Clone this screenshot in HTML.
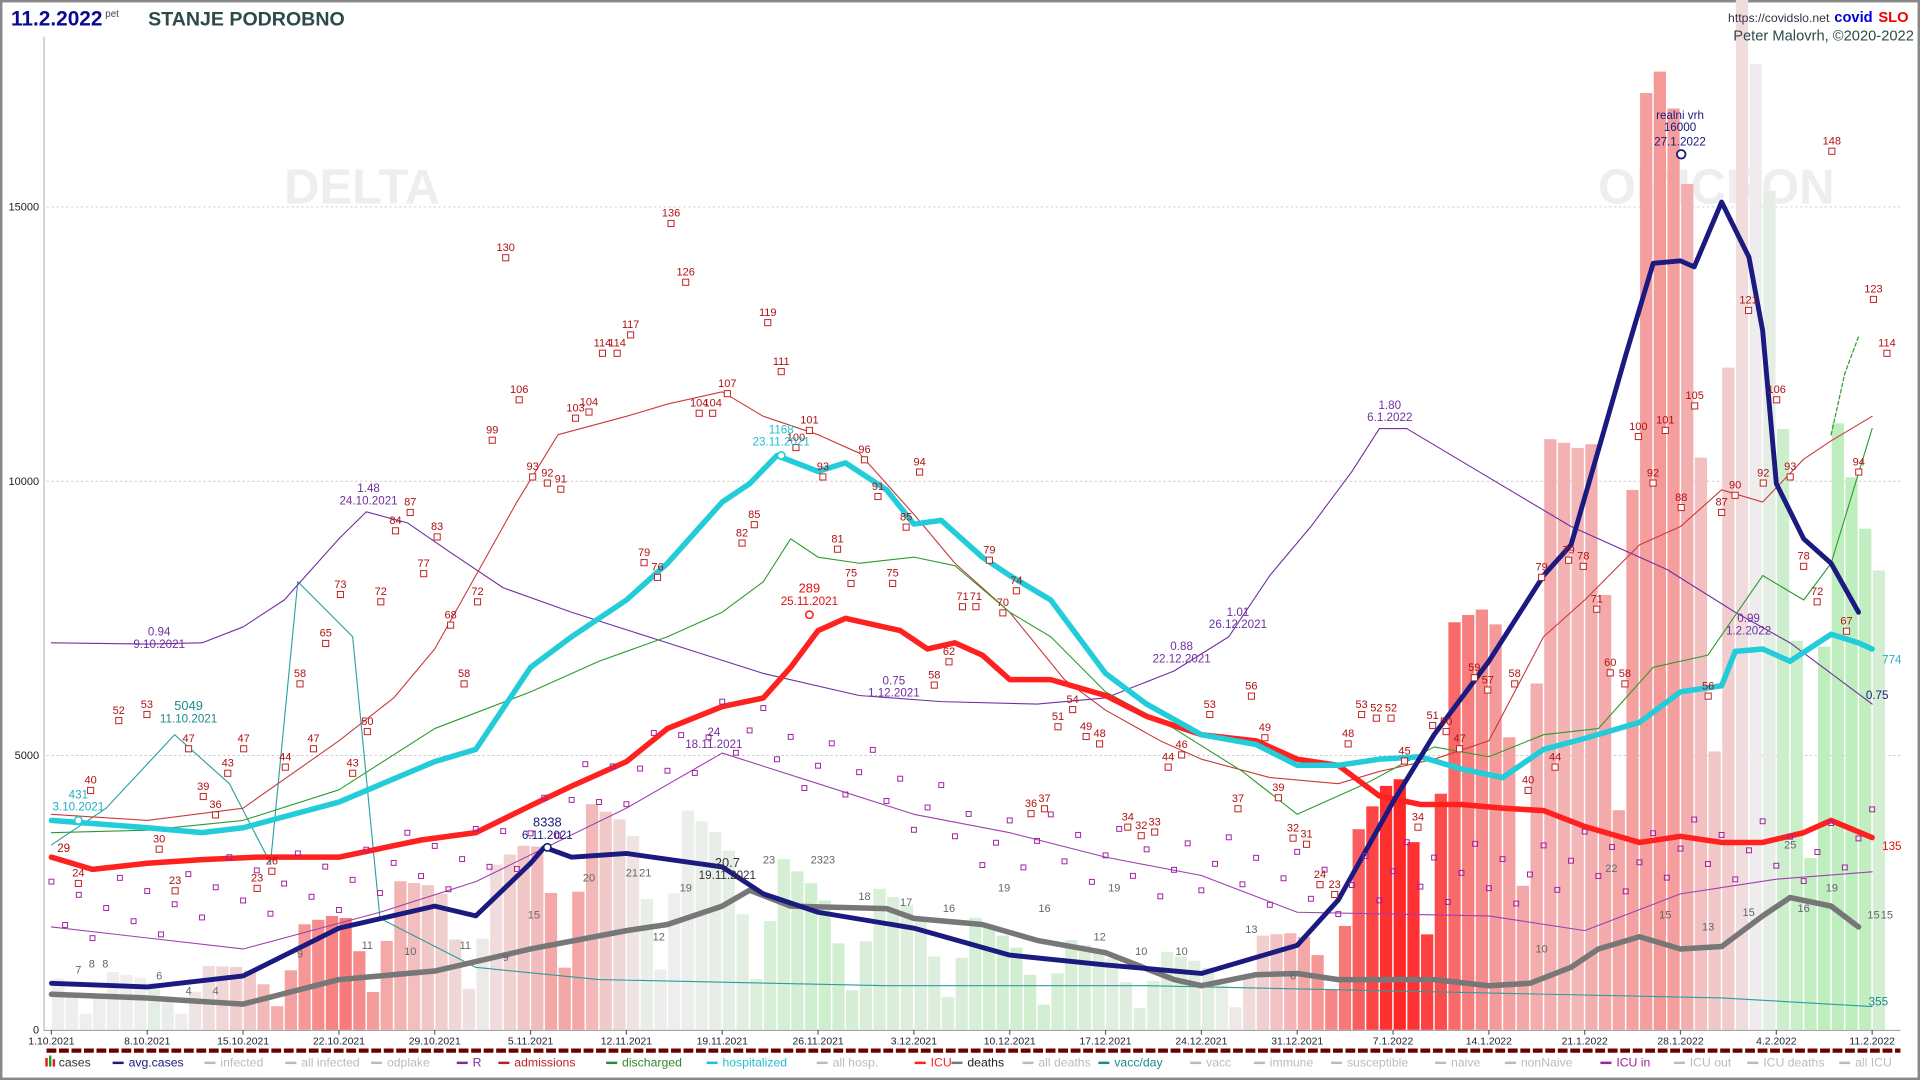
<!DOCTYPE html>
<html><head><meta charset="utf-8"><style>
html,body{margin:0;padding:0;background:#fff;width:1920px;height:1080px;overflow:hidden}
svg{display:block}
text{font-family:"Liberation Sans Narrow","Liberation Sans",sans-serif}
</style></head><body>
<svg id="s" width="1920" height="1080" viewBox="0 0 1568 882" xmlns="http://www.w3.org/2000/svg">
<rect x="0" y="0" width="1568" height="882" fill="#fff"/>
<rect x="1" y="1" width="1566" height="880" fill="none" stroke="#888" stroke-width="2"/>
<g id="g"></g>
</svg>
<script>
const NS="http://www.w3.org/2000/svg",G=document.getElementById('g');
function el(t,a,txt){const e=document.createElementNS(NS,t);for(const k in a)e.setAttribute(k,a[k]);if(txt!=null)e.textContent=txt;G.appendChild(e);return e;}
const X=d=>42+d*11.18, Y=v=>841-v*0.0448;
const D=(m,d)=>m==10?d-1:m==11?30+d:m==12?60+d:m==1?91+d:122+d;
function interp(kp,d){if(d<=kp[0][0])return kp[0][1];for(let i=1;i<kp.length;i++){if(d<=kp[i][0]){const a=kp[i-1],b=kp[i];return a[1]+(b[1]-a[1])*(d-a[0])/(b[0]-a[0]);}}return kp[kp.length-1][1];}
function K(arr){return arr.map(p=>[D(p[0],p[1]),p[2]]);}
el('text',{x:232,y:166,'font-size':40,'font-weight':'bold',fill:'#eeeeee'},'DELTA');
el('text',{x:1305,y:166,'font-size':40,'font-weight':'bold',fill:'#eeeeee'},'OMICRON');
[[0,'0'],[5000,'5000'],[10000,'10000'],[15000,'15000']].forEach(g=>{
 if(g[0]>0)el('line',{x1:38,x2:1552,y1:Y(g[0]),y2:Y(g[0]),stroke:'#ccc','stroke-dasharray':'2,2','stroke-width':0.8});
 el('text',{x:32,y:Y(g[0])+3,'font-size':9,'text-anchor':'end',fill:'#222'},g[1]);});
el('line',{x1:36,x2:36,y1:30,y2:842,stroke:'#bbb','stroke-width':1});
const avgK=K([[10,1,803],[10,8,806],[10,15,797],[10,22,758],[10,29,740],[11,1,748],[11,5,705],[11,6,692],[11,8,700],[11,12,697],[11,19,708],[11,22,730],[11,26,745],[12,3,758],[12,10,780],[12,17,788],[12,24,795],[12,31,772],[1,3,735],[1,7,655],[1,10,600],[1,14,540],[1,18,470],[1,20,445],[1,24,290],[1,26,215],[1,28,213],[1,29,218],[1,31,165],[2,2,210],[2,3,270],[2,4,395],[2,6,440],[2,8,460],[2,10,500]]);
const av=d=>(841-interp(avgK,d))/0.0448;
const mult=[1.1,0.75,0.35,0.8,1.3,1.25,1.2];
function mix(a,b,t){return 'rgb('+a.map((c,i)=>Math.round(c+(b[i]-c)*t)).join(',')+')';}
for(let d=0;d<134;d++){
 let v=av(d)*mult[d%7];
 const r=d>=7?av(d)/av(d-7):1; let col;
 if(r>=1){col=mix([238,238,238],[255,40,40],Math.pow(Math.min(1,(r-1)/1.6),0.9));}
 else col=mix([238,238,238],[175,238,175],Math.min(1,(1-r)/0.55));
 el('rect',{x:X(d)+0.5,y:Y(v),width:10,height:841-Y(v),fill:col});
}
function line(kp,c,w,extra){const pts=kp.map(p=>X(p[0]).toFixed(1)+','+p[1]).join(' ');const a={points:pts,fill:'none',stroke:c,'stroke-width':w,'stroke-linejoin':'round','stroke-linecap':'round'};Object.assign(a,extra||{});el('polyline',a);}
line(K([[10,1,690],[10,5,660],[10,10,600],[10,14,640],[10,17,705],[10,19,475],[10,23,520],[10,25,750],[11,1,790],[11,10,800],[12,1,805],[12,20,805],[1,10,810],[1,31,815],[2,11,822]]),'#2a9d9d',0.9);
line(K([[10,1,757],[10,15,775],[10,25,745],[11,1,720],[11,12,660],[11,19,615],[11,26,640],[12,3,665],[12,10,680],[12,17,700],[12,24,715],[12,31,745],[1,14,748],[1,21,760],[1,28,730],[2,4,718],[2,11,712]]),'#a040b0',0.9);
line(K([[10,1,525],[10,8,526],[10,12,525],[10,15,512],[10,18,490],[10,22,440],[10,24,418],[10,27,427],[10,30,450],[11,3,480],[11,8,500],[11,15,525],[11,22,550],[11,29,568],[12,5,573],[12,12,575],[12,17,570],[12,22,548],[12,26,520],[12,29,470],[1,1,430],[1,4,385],[1,6,350],[1,8,350],[1,14,390],[1,20,430],[1,27,465],[2,1,500],[2,5,525],[2,11,575]]),'#7030a0',0.9);
line(K([[10,1,665],[10,8,670],[10,15,660],[10,22,605],[10,26,570],[10,29,530],[11,1,470],[11,4,410],[11,7,355],[11,12,340],[11,15,330],[11,19,320],[11,22,340],[11,26,355],[11,29,370],[12,3,420],[12,6,460],[12,10,500],[12,14,555],[12,17,580],[12,21,605],[12,24,620],[12,29,635],[1,3,640],[1,6,630],[1,10,620],[1,14,605],[1,18,520],[1,21,490],[1,25,445],[1,28,430],[1,31,400],[2,3,410],[2,6,375],[2,8,360],[2,11,340]]),'#c83c3c',0.9);
line(K([[10,1,680],[10,8,678],[10,15,670],[10,22,645],[10,29,595],[11,5,565],[11,10,540],[11,15,520],[11,19,500],[11,22,475],[11,24,440],[11,26,455],[11,29,460],[12,3,455],[12,6,462],[12,10,500],[12,13,520],[12,17,565],[12,22,595],[12,27,630],[12,31,665],[1,5,640],[1,10,610],[1,14,618],[1,18,600],[1,22,595],[1,26,545],[1,30,535],[2,3,470],[2,6,490],[2,8,460],[2,11,350]]),'#2e9a2e',0.9);
line([[D(2,8),355],[D(2,9),305],[D(2,10),275]],'#2e9a2e',1,{'stroke-dasharray':'3,2'});
line(K([[10,1,812],[10,8,815],[10,15,820],[10,22,800],[10,29,793],[11,5,775],[11,12,760],[11,15,755],[11,19,740],[11,21,727],[11,24,740],[12,1,742],[12,3,750],[12,8,755],[12,12,768],[12,17,778],[12,22,800],[12,24,805],[12,28,796],[12,31,795],[1,3,800],[1,10,800],[1,14,805],[1,17,803],[1,20,790],[1,22,775],[1,25,765],[1,28,775],[1,31,773],[2,3,748],[2,5,733],[2,8,740],[2,10,757]]),'#777',4.5);
line(K([[10,1,700],[10,4,710],[10,8,705],[10,12,702],[10,16,700],[10,22,700],[10,28,686],[11,1,680],[11,5,658],[11,8,642],[11,12,622],[11,15,595],[11,19,577],[11,22,570],[11,24,545],[11,26,515],[11,28,505],[11,30,510],[12,2,515],[12,4,530],[12,6,525],[12,8,535],[12,10,555],[12,13,555],[12,17,568],[12,20,585],[12,24,600],[12,28,605],[12,31,620],[1,3,625],[1,6,650],[1,9,657],[1,12,657],[1,15,660],[1,18,662],[1,21,675],[1,25,688],[1,28,683],[1,31,688],[2,3,688],[2,6,680],[2,8,670],[2,11,684]]),'#ff2020',4.5);
line(K([[10,1,670],[10,8,676],[10,12,680],[10,15,676],[10,22,655],[10,29,622],[11,1,612],[11,5,545],[11,8,520],[11,12,490],[11,15,460],[11,19,410],[11,21,395],[11,23,372],[11,26,385],[11,28,378],[12,1,400],[12,3,428],[12,5,425],[12,8,455],[12,10,470],[12,13,490],[12,15,520],[12,17,550],[12,20,575],[12,24,600],[12,28,608],[12,31,625],[1,3,625],[1,6,620],[1,9,618],[1,12,628],[1,15,635],[1,18,612],[1,21,603],[1,25,590],[1,28,565],[1,31,560],[2,1,532],[2,3,530],[2,5,540],[2,8,518],[2,10,525],[2,11,530]]),'#22ccd8',4.5);
line(avgK.filter(p=>p[0]<=D(2,10)),'#1a1a80',4);
for(let d=0;d<134;d++){const base=interp(K([[10,1,750],[11,1,700],[11,19,590],[12,10,690],[1,1,720],[1,28,700],[2,11,690]]),d);const off=((d*37)%60)-30;el('rect',{x:X(d)-2,y:base+off-2,width:4,height:4,fill:'none',stroke:'#a020a0','stroke-width':0.8});}
const adm=[[64,716,"24"],[74,640,"40"],[97,583,"52"],[120,578,"53"],[130,688,"30"],[143,722,"23"],[154,606,"47"],[166,645,"39"],[176,660,"36"],[186,626,"43"],[199,606,"47"],[210,720,"23"],[222,706,"26"],[233,621,"44"],[245,553,"58"],[256,606,"47"],[266,520,"65"],[278,480,"73"],[288,626,"43"],[300,592,"50"],[311,486,"72"],[323,428,"84"],[335,413,"87"],[346,463,"77"],[357,433,"83"],[368,505,"68"],[379,553,"58"],[390,486,"72"],[402,354,"99"],[413,205,"130"],[424,321,"106"],[435,384,"93"],[447,389,"92"],[458,394,"91"],[470,336,"103"],[481,331,"104"],[492,283,"114"],[504,283,"114"],[515,268,"117"],[526,454,"79"],[537,466,"76"],[548,177,"136"],[560,225,"126"],[571,332,"104"],[582,332,"104"],[594,316,"107"],[606,438,"82"],[616,423,"85"],[627,258,"119"],[638,298,"111"],[650,360,"100"],[661,346,"101"],[672,384,"93"],[684,443,"81"],[695,471,"75"],[706,370,"96"],[717,400,"91"],[729,471,"75"],[740,425,"85"],[751,380,"94"],[763,554,"58"],[775,535,"62"],[786,490,"71"],[797,490,"71"],[808,452,"79"],[819,495,"70"],[830,477,"74"],[842,659,"36"],[853,655,"37"],[864,588,"51"],[876,574,"54"],[887,596,"49"],[898,602,"48"],[921,670,"34"],[932,677,"32"],[943,674,"33"],[954,621,"44"],[965,611,"46"],[988,578,"53"],[1011,655,"37"],[1022,563,"56"],[1033,597,"49"],[1044,646,"39"],[1056,679,"32"],[1067,684,"31"],[1078,717,"24"],[1090,725,"23"],[1101,602,"48"],[1112,578,"53"],[1124,581,"52"],[1136,581,"52"],[1147,616,"45"],[1158,670,"34"],[1170,587,"51"],[1181,592,"50"],[1192,606,"47"],[1204,548,"59"],[1215,558,"57"],[1237,553,"58"],[1248,640,"40"],[1259,466,"79"],[1270,621,"44"],[1281,452,"79"],[1293,457,"78"],[1304,492,"71"],[1315,544,"60"],[1327,553,"58"],[1338,351,"100"],[1350,389,"92"],[1360,346,"101"],[1373,409,"88"],[1384,326,"105"],[1395,563,"56"],[1406,413,"87"],[1417,399,"90"],[1428,248,"121"],[1440,389,"92"],[1451,321,"106"],[1462,384,"93"],[1473,457,"78"],[1484,486,"72"],[1496,118,"148"],[1508,510,"67"],[1518,380,"94"],[1530,239,"123"],[1541,283,"114"]];
adm.forEach(a=>{el('text',{x:a[0],y:a[1],'font-size':9,'text-anchor':'middle',fill:'#b01010'},a[2]);el('rect',{x:a[0]-2.5,y:a[1]+3,width:5,height:5,fill:'#fff',stroke:'#c02020','stroke-width':0.8});});
const dl=[[64,795,"7"],[75,790,"8"],[86,790,"8"],[130,800,"6"],[154,812,"4"],[176,812,"4"],[245,782,"9"],[300,775,"11"],[335,780,"10"],[380,775,"11"],[413,785,"9"],[436,750,"15"],[481,720,"20"],[516,716,"21"],[527,716,"21"],[538,768,"12"],[560,728,"19"],[628,705,"23"],[672,705,"2323"],[706,735,"18"],[740,740,"17"],[775,745,"16"],[820,728,"19"],[853,745,"16"],[898,768,"12"],[910,728,"19"],[932,780,"10"],[965,780,"10"],[1022,762,"13"],[1056,800,"6"],[1259,778,"10"],[1316,712,"22"],[1360,750,"15"],[1395,760,"13"],[1428,748,"15"],[1462,693,"25"],[1473,745,"16"],[1496,728,"19"],[1530,750,"15"],[1541,750,"15"]];
dl.forEach(a=>el('text',{x:a[0],y:a[1],'font-size':9,'text-anchor':'middle',fill:'#666'},a[2]));
function ann(x,y,a,b,c,sz){el('text',{x:x,y:y,'font-size':sz||9.5,'text-anchor':'middle',fill:c},a);if(b)el('text',{x:x,y:y+10,'font-size':9.5,'text-anchor':'middle',fill:c},b);}
ann(130,519,'0.94','9.10.2021','#7030a0');ann(301,402,'1.48','24.10.2021','#7030a0');ann(583,601,'24','18.11.2021','#7030a0');
ann(730,559,'0.75','1.12.2021','#7030a0');ann(965,531,'0.88','22.12.2021','#7030a0');ann(1011,503,'1.01','26.12.2021','#7030a0');
ann(1135,334,'1.80','6.1.2022','#7030a0');ann(1428,508,'0.99','1.2.2022','#7030a0');ann(1533,571,'0.75',null,'#1a1a80');
ann(154,580,'5049','11.10.2021','#1a8a8a',10.5);ann(64,652,'431','3.10.2021','#20b0c0');ann(638,354,'1168','23.11.2021','#20c0d0');
ann(1545,542,'774',null,'#20b0c0');ann(1534,821,'355',null,'#1a8a8a');ann(1545,694,'135',null,'#e01010');ann(52,696,'29',null,'#b01010');
ann(447,675,'8338','6.11.2021','#1a1a80',10.5);ann(594,708,'20.7','19.11.2021','#333',10.5);
ann(661,484,'289','25.11.2021','#e01010',10.5);
ann(1372,97,'realni vrh','16000','#1a1a80');el('text',{x:1372,y:119,'font-size':9.5,'text-anchor':'middle',fill:'#1a1a80'},'27.1.2022');
el('circle',{cx:1373,cy:126,r:3.5,fill:'#fff',stroke:'#1a1a80','stroke-width':1.5});
el('circle',{cx:447,cy:692,r:3,fill:'#fff',stroke:'#1a1a80','stroke-width':1.3});
el('circle',{cx:661,cy:502,r:3,fill:'#fff',stroke:'#ff2020','stroke-width':1.3});
el('circle',{cx:638,cy:372,r:3,fill:'#fff',stroke:'#22ccd8','stroke-width':1.3});
el('circle',{cx:64,cy:670,r:3,fill:'#fff',stroke:'#22ccd8','stroke-width':1.3});
el('line',{x1:36,x2:1552,y1:841.5,y2:841.5,stroke:'#999','stroke-width':0.8});
const xl=[[10,1,'1.10.2021'],[10,8,'8.10.2021'],[10,15,'15.10.2021'],[10,22,'22.10.2021'],[10,29,'29.10.2021'],[11,5,'5.11.2021'],[11,12,'12.11.2021'],[11,19,'19.11.2021'],[11,26,'26.11.2021'],[12,3,'3.12.2021'],[12,10,'10.12.2021'],[12,17,'17.12.2021'],[12,24,'24.12.2021'],[12,31,'31.12.2021'],[1,7,'7.1.2022'],[1,14,'14.1.2022'],[1,21,'21.1.2022'],[1,28,'28.1.2022'],[2,4,'4.2.2022'],[2,11,'11.2.2022']];
xl.forEach(p=>{const x=X(D(p[0],p[1]));el('line',{x1:x,x2:x,y1:841,y2:845,stroke:'#666'});el('text',{x:x,y:853,'font-size':8.5,'text-anchor':'middle',fill:'#223'},p[2]);});
el('line',{x1:38,x2:1552,y1:858,y2:858,stroke:'#6b0000','stroke-width':3.5,'stroke-dasharray':'8,2.2'});
const lg=[['cases','#333'],['avg.cases','#1a1a80'],['infected','#bbb'],['all infected','#bbb'],['odplake','#bbb'],['R','#7030a0'],['admissions','#c02020'],['discharged','#2e8a2e'],['hospitalized','#20c0d0'],['all hosp.','#bbb'],['ICU','#ff2020'],['deaths','#222'],['all deaths','#bbb'],['vacc/day','#1a8a8a'],['vacc','#bbb'],['immune','#bbb'],['susceptible','#bbb'],['naive','#bbb'],['nonNaive','#bbb'],['ICU in','#a020a0'],['ICU out','#bbb'],['ICU deaths','#bbb'],['all ICU','#bbb']];
const lx=[48,105,180,246,316,386,420,508,590,680,760,790,848,910,985,1037,1100,1185,1242,1320,1380,1440,1515];
lg.forEach((l,i)=>{const x=lx[i];
 if(i==0){el('rect',{x:37,y:864,width:2,height:7,fill:'#e02020'});el('rect',{x:40,y:862,width:2,height:9,fill:'#20a020'});el('rect',{x:43,y:865,width:2,height:6,fill:'#e02020'});}
 else{const c=l[1]=='#222'?'#777':l[1];el('line',{x1:x-13,x2:x-4,y1:868,y2:868,stroke:c,'stroke-width':2});}
 el('text',{x:x,y:871,'font-size':10,fill:l[1]},l[0]);});
el('text',{x:9,y:21,'font-size':17,'font-weight':'bold',fill:'#0a0a90',style:'font-family:"Liberation Sans",sans-serif'},'11.2.2022');
el('text',{x:86,y:14,'font-size':8,fill:'#444'},'pet');
el('text',{x:121,y:21,'font-size':16,'font-weight':'bold',fill:'#2d4a4a',style:'font-family:"Liberation Sans",sans-serif'},'STANJE PODROBNO');
el('text',{x:1494,y:18,'font-size':10,'text-anchor':'end',fill:'#334'},'https://covidslo.net');
el('text',{x:1498,y:18,'font-size':12,'font-weight':'bold',fill:'#0000dd',style:'font-family:"Liberation Sans",sans-serif'},'covid');
el('text',{x:1534,y:18,'font-size':12,'font-weight':'bold',fill:'#ee0000',style:'font-family:"Liberation Sans",sans-serif'},'SLO');
el('text',{x:1563,y:33,'font-size':12,'text-anchor':'end',fill:'#2d4a4a'},'Peter Malovrh, ©2020-2022');
</script>
</body></html>
